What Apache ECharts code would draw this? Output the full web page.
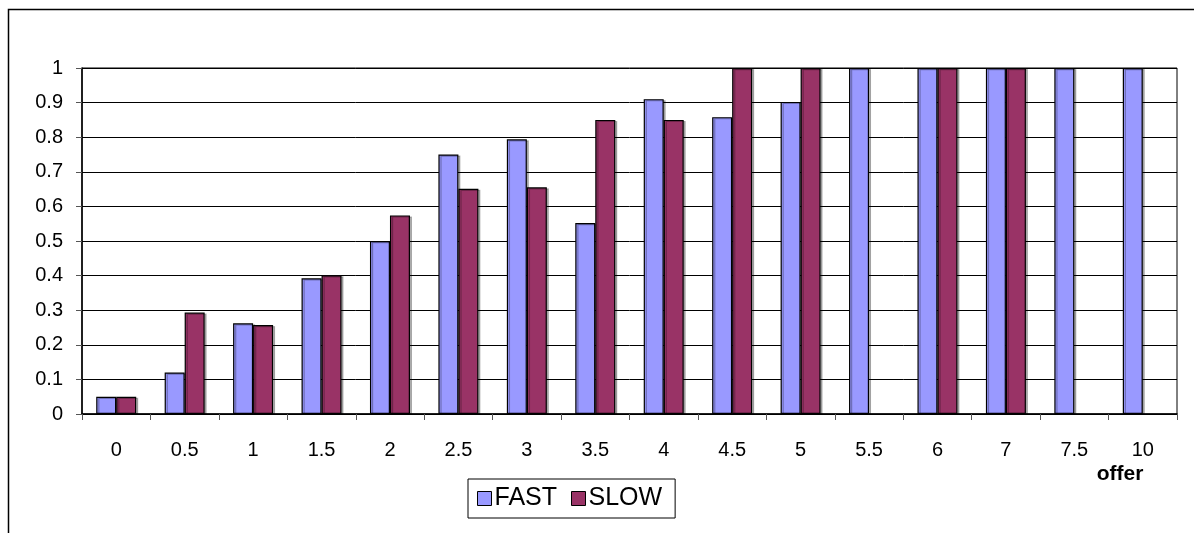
<!DOCTYPE html>
<html>
<head>
<meta charset="utf-8">
<script src="https://cdn.jsdelivr.net/npm/echarts@6/dist/echarts.min.js"></script>
<style>
  html, body { margin: 0; padding: 0; background: #fff; }
  #chart { width: 1194px; height: 533px; }
</style>
</head>
<body>
<div id="chart"></div>
<script>
// Offer amounts along the x axis
const offers = ['0', '0.5', '1', '1.5', '2', '2.5', '3', '3.5', '4', '4.5', '5', '5.5', '6', '7', '7.5', '10'];
// Share accepted per offer, by response speed (null = no observations)
const fastValues = [0.05, 0.12, 0.262, 0.392, 0.5, 0.75, 0.794, 0.552, 0.91, 0.858, 0.902, 1, 1, 1, 1, 1];
const slowValues = [0.05, 0.293, 0.257, 0.401, 0.574, 0.651, 0.655, 0.85, 0.85, 1, 1, null, 1, 1, null, null];
const yTicks = { min: 0, max: 1, step: 0.1 };

const chart = echarts.init(document.getElementById('chart'), null, { renderer: 'canvas' });
const font = 'Arial, "Liberation Sans", sans-serif';

const barStyle = (color) => ({
  color: color,
  borderColor: '#000',
  borderWidth: 1.2,
  shadowColor: 'rgba(0,0,0,0.28)',
  shadowOffsetX: 2,
  shadowOffsetY: 1,
  shadowBlur: 0
});

chart.setOption({
  animation: false,
  backgroundColor: '#fff',
  grid: {
    left: 82, right: 17, top: 68, bottom: 119,
    show: true, borderColor: '#000', borderWidth: 1
  },
  legend: {
    left: 468, top: 479,
    padding: [7, 13, 7, 9],
    borderColor: '#000', borderWidth: 1,
    itemWidth: 14, itemHeight: 14, itemGap: 14,
    icon: 'rect',
    textStyle: { fontFamily: font, fontSize: 25, color: '#000', padding: [0, 0, 0, -2] },
    data: [
      { name: 'FAST', itemStyle: { color: '#9999FF', borderColor: '#000', borderWidth: 1 } },
      { name: 'SLOW', itemStyle: { color: '#993366', borderColor: '#000', borderWidth: 1 } }
    ]
  },
  xAxis: {
    type: 'category',
    data: offers,
    boundaryGap: true,
    axisLine: { lineStyle: { color: '#000', width: 1.5 } },
    axisTick: { show: true, length: 6, lineStyle: { color: '#555' } },
    axisLabel: { color: '#000', fontFamily: font, fontSize: 20, margin: 26 }
  },
  yAxis: {
    type: 'value',
    min: yTicks.min, max: yTicks.max, interval: yTicks.step,
    axisLine: { show: true, lineStyle: { color: '#000', width: 1.5 } },
    axisTick: { show: true, length: 6, lineStyle: { color: '#555' } },
    axisLabel: {
      color: '#000', fontFamily: font, fontSize: 20, margin: 19,
      formatter: (v) => String(Math.round(v * 10) / 10)
    },
    splitLine: { show: true, lineStyle: { color: '#000', width: 1 } }
  },
  series: [
    {
      name: 'FAST', type: 'bar', data: fastValues,
      barWidth: 20, barGap: '0%',
      itemStyle: barStyle('#9999FF')
    },
    {
      name: 'SLOW', type: 'bar', data: slowValues,
      barWidth: 20, barGap: '0%',
      itemStyle: barStyle('#993366')
    }
  ],
  graphic: [
    {
      type: 'rect',
      shape: { x: 8.5, y: 9.5, width: 1200, height: 600 },
      style: { fill: 'none', stroke: '#000', lineWidth: 1.5 },
      silent: true
    },
    {
      type: 'text',
      x: 1120, y: 474,
      style: {
        text: 'offer', fontFamily: font, fontSize: 21, fontWeight: 'bold', fill: '#000',
        align: 'center', verticalAlign: 'middle'
      }
    }
  ]
});
</script>
</body>
</html>
